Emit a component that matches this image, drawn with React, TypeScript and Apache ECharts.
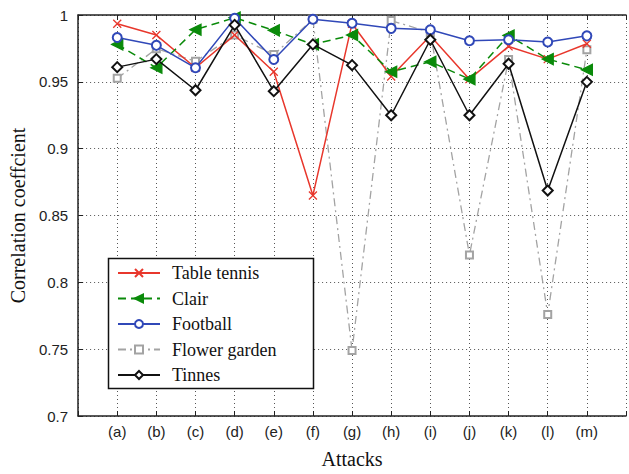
import React, { useEffect, useRef } from "react";
import * as echarts from "echarts";

const categories = ["(a)", "(b)", "(c)", "(d)", "(e)", "(f)", "(g)", "(h)", "(i)", "(j)", "(k)", "(l)", "(m)"];
const tableTennis = [0.9935, 0.985, 0.9605, 0.985, 0.9575, 0.865, 0.9935, 0.954, 0.9845, 0.952, 0.9765, 0.967, 0.9785];
const clair = [0.978, 0.9605, 0.989, 0.998, 0.9885, 0.978, 0.985, 0.9575, 0.965, 0.952, 0.9847, 0.967, 0.959];
const football = [0.9832, 0.9773, 0.9605, 0.9975, 0.9667, 0.9968, 0.9938, 0.99, 0.989, 0.9807, 0.9815, 0.9798, 0.9844];
const flowerGarden = [0.9526, 0.9748, 0.9654, 0.985, 0.9704, 0.9968, 0.749, 0.9958, 0.987, 0.8205, 0.9667, 0.776, 0.974];
const tinnes = [0.961, 0.967, 0.9437, 0.9926, 0.943, 0.978, 0.9625, 0.925, 0.9815, 0.925, 0.9635, 0.8687, 0.95];
const yTicks = { min: 0.7, max: 1.0, step: 0.05 };

const SERIF = "Liberation Serif, Times New Roman, serif";
const SANS = "Liberation Sans, Arial, Helvetica, sans-serif";

const toPairs = (arr: number[]) => arr.map((v, i) => [i + 1, v]);

export default function App() {
  const ref = useRef<HTMLDivElement>(null);
  useEffect(() => {
    if (!ref.current) return;
    const chart = echarts.init(ref.current, null, { renderer: "svg" });
    const mk = (name: string, data: number[], color: string, extra: any) => ({
      name,
      type: "line",
      data: toPairs(data),
      xAxisIndex: 0,
      yAxisIndex: 0,
      lineStyle: { color, width: 1.5, ...(extra.line || {}) },
      itemStyle: { color: extra.fill || color, borderColor: color, borderWidth: 1.3 },
      symbol: extra.symbol,
      symbolSize: extra.size,
      symbolRotate: extra.rotate || 0,
      z: extra.z || 2,
    });
    chart.setOption({
      animation: false,
      backgroundColor: "#fff",
      textStyle: { fontFamily: SANS },
      grid: { left: 76, top: 15, width: 556, height: 405, containLabel: false },
      graphic: [
        {
          type: "rect",
          z: 10,
          shape: { x: 108.5, y: 258.5, width: 205, height: 130 },
          style: { fill: "#fff", stroke: "#111", lineWidth: 1.5 },
        },
      ],
      legend: {
        z: 20,
        orient: "vertical",
        left: 117,
        top: 264,
        padding: 0,
        itemWidth: 42,
        itemHeight: 10,
        itemGap: 7.5,
        textStyle: { fontFamily: SERIF, fontSize: 18, color: "#111", padding: [0, 0, 0, 7] },
        data: ["Table tennis", "Clair", "Football", "Flower garden", "Tinnes"],
      },
      xAxis: [
        {
          type: "value",
          min: 0,
          max: categories.length + 1,
          interval: 1,
          name: "Attacks",
          nameLocation: "middle",
          nameGap: 33,
          nameTextStyle: { fontFamily: SERIF, fontSize: 20, color: "#111" },
          axisLine: { show: true, onZero: false, lineStyle: { color: "#222", width: 1.5 } },
          axisTick: { show: true, inside: true, length: 5, lineStyle: { color: "#222" } },
          axisLabel: {
            fontFamily: SANS,
            fontSize: 15,
            color: "#222",
            margin: 8,
            formatter: (v: number) => (v >= 1 && v <= categories.length ? categories[v - 1] : ""),
          },
          splitLine: { show: true, lineStyle: { color: "#555", type: [1, 3], width: 1 } },
        },
        {
          type: "value",
          position: "top",
          min: 0,
          max: categories.length + 1,
          interval: 1,
          axisLine: { show: true, onZero: false, lineStyle: { color: "#222", width: 1.5 } },
          axisTick: { show: true, inside: true, length: 5, lineStyle: { color: "#222" } },
          axisLabel: { show: false },
          splitLine: { show: false },
        },
      ],
      yAxis: [
        {
          type: "value",
          min: yTicks.min,
          max: yTicks.max,
          interval: yTicks.step,
          name: "Correlation coeffcient",
          nameLocation: "middle",
          nameGap: 49,
          nameTextStyle: { fontFamily: SERIF, fontSize: 20, color: "#111" },
          axisLine: { show: true, onZero: false, lineStyle: { color: "#222", width: 1.5 } },
          axisTick: { show: true, inside: true, length: 5, lineStyle: { color: "#222" } },
          axisLabel: {
            fontFamily: SANS,
            fontSize: 15,
            color: "#222",
            margin: 10,
            formatter: (v: number) => String(+v.toFixed(2)),
          },
          splitLine: { show: true, lineStyle: { color: "#555", type: [1, 3], width: 1 } },
        },
      ],
      series: [
        mk("Flower garden", flowerGarden, "#a3a3a3", {
          symbol: "emptyRect",
          size: 7,
          line: { type: [8, 4, 2, 4], width: 1.3 },
          z: 2,
        }),
        mk("Table tennis", tableTennis, "#e8372c", {
          symbol: "path://M0,0L10,10M10,0L0,10",
          size: 8,
          z: 3,
        }),
        mk("Clair", clair, "#0a8a0a", {
          symbol: "triangle",
          size: 11,
          rotate: 90,
          line: { type: [8, 5] },
          z: 3,
        }),
        mk("Football", football, "#3048b8", {
          symbol: "emptyCircle",
          size: 9,
          z: 4,
        }),
        mk("Tinnes", tinnes, "#111", {
          symbol: "emptyDiamond",
          size: 10,
          z: 5,
        }),
      ],
    });
    return () => chart.dispose();
  }, []);
  return <div ref={ref} style={{ width: 629, height: 474, position: "absolute", left: 0, top: 0 }} />;
}
